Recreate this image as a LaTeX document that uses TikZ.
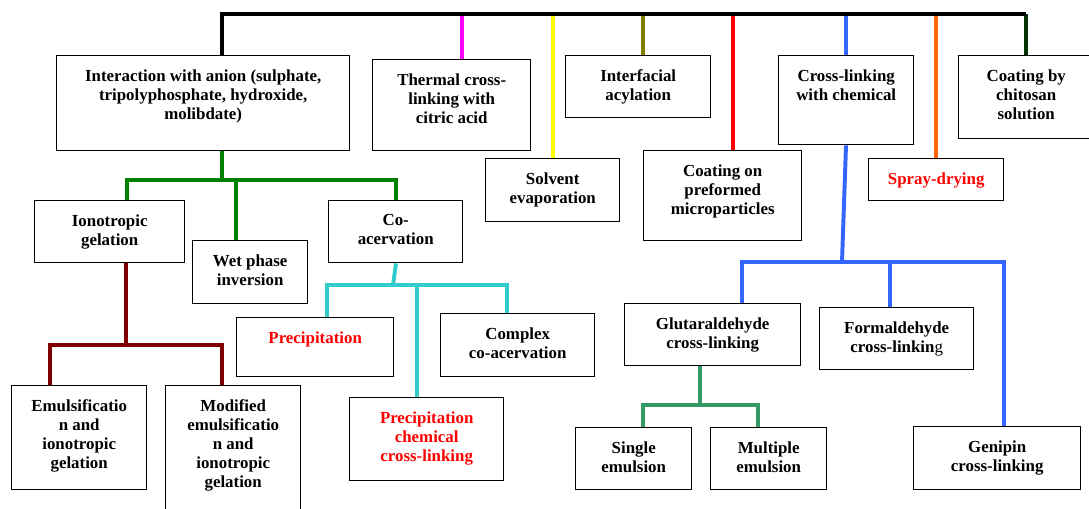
\documentclass[tikz,border=0pt]{standalone}
\usepackage{fontspec}
\setmainfont{Liberation Serif}
\usetikzlibrary{calc}

\definecolor{grn}{RGB}{0,128,0}
\definecolor{brn}{RGB}{128,0,0}
\definecolor{cyn}{RGB}{51,204,204}
\definecolor{blu}{RGB}{51,102,255}
\definecolor{tea}{RGB}{51,153,102}
\definecolor{olv}{RGB}{128,128,0}
\definecolor{orn}{RGB}{255,102,0}
\definecolor{dkg}{RGB}{0,51,0}
\definecolor{mag}{RGB}{255,0,255}
\definecolor{yel}{RGB}{255,255,0}

\begin{document}
\begin{tikzpicture}[x=0.025cm,y=-0.025cm,
   bx/.style 2 args={draw,line width=1pt,anchor=north west,inner sep=0pt,
     minimum width=#1*0.025cm,minimum height=#2*0.025cm},
   lbl/.style={anchor=north,align=center,inner sep=0pt,yshift=-10pt,
     font=\fontsize{12}{13.6}\selectfont\bfseries},
   rlbl/.style={lbl,text=red},
   drop/.style={line width=2.8pt},
   trunk/.style={line width=3.2pt,black}]
  \useasboundingbox (0,0) rectangle (1089,508);

  % first row
  \node[bx={293}{95},label={[lbl]north:{Interaction with anion (sulphate,\\tripolyphosphate, hydroxide,\\molibdate)}}] (inter) at (56,55) {};
  \node[bx={158}{91},label={[lbl]north:{Thermal cross-\\linking with\\citric acid}}] (therm) at (372,59) {};
  \node[bx={134}{63},label={[lbl]north:{Solvent\\evaporation}}] (solv) at (485,158) {};
  \node[bx={145}{62},label={[lbl]north:{Interfacial\\acylation}}] (acyl) at (565,55) {};
  \node[bx={158}{90},label={[lbl]north:{Coating on\\preformed\\microparticles}}] (pref) at (643,150) {};
  \node[bx={135}{89},label={[lbl]north:{Cross-linking\\with chemical}}] (xchem) at (778,55) {};
  \node[bx={135}{42},label={[rlbl]north:{Spray-drying}}] (spray) at (868,158) {};
  \node[bx={135}{83},label={[lbl]north:{Coating by\\chitosan\\solution}}] (chito) at (958,55) {};

  % anion branch
  \node[bx={150}{62},label={[lbl]north:{Ionotropic\\gelation}}] (ion) at (34,200) {};
  \node[bx={115}{63},label={[lbl]north:{Wet phase\\inversion}}] (wet) at (192,240) {};
  \node[bx={134}{62},label={[lbl]north:{Co-\\acervation}}] (coac) at (328,200) {};
  \node[bx={135}{104},label={[lbl]north:{Emulsificatio\\n and\\ionotropic\\gelation}}] (emul) at (11,385) {};
  \node[bx={135}{130},label={[lbl]north:{Modified\\emulsificatio\\n and\\ionotropic\\gelation}}] (modem) at (165,385) {};
  \node[bx={157}{59},label={[rlbl]north:{Precipitation}}] (prec) at (236,317) {};
  \node[bx={154}{63},label={[lbl]north:{Complex\\co-acervation}}] (compl) at (440,313) {};
  \node[bx={154}{83},label={[rlbl]north:{Precipitation\\chemical\\cross-linking}}] (pcc) at (349,397) {};

  % chemical branch
  \node[bx={176}{62},label={[lbl]north:{Glutaraldehyde\\cross-linking}}] (glut) at (624,303) {};
  \node[bx={154}{62},label={[lbl]north:{Formaldehyde\\cross-linkin{\mdseries g}}}] (form) at (819,307) {};
  \node[bx={116}{62},label={[lbl]north:{Single\\emulsion}}] (single) at (575,427) {};
  \node[bx={116}{62},label={[lbl]north:{Multiple\\emulsion}}] (multi) at (710,427) {};
  \node[bx={167}{63},label={[lbl]north:{Genipin\\cross-linking}}] (genip) at (913,426) {};

  % top bar
  \coordinate (tk) at (222,14);
  \coordinate (tm) at (462,14);
  \coordinate (ty) at (553,14);
  \coordinate (to) at (643,14);
  \coordinate (tr) at (733,14);
  \coordinate (tb) at (846,14);
  \coordinate (tn) at (936,14);
  \coordinate (td) at (1026,14);
  \draw[drop,mag] (tm) -- (therm.north -| tm);
  \draw[drop,yel] (ty) -- (solv.north -| ty);
  \draw[drop,olv] (to) -- (acyl.north -| to);
  \draw[drop,red] (tr) -- (pref.north -| tr);
  \draw[drop,blu] (tb) -- (xchem.north -| tb);
  \draw[drop,orn] (tn) -- (spray.north -| tn);
  \draw[drop,dkg] (td) -- (chito.north -| td);
  \draw[trunk] (inter.north -| tk) |- (td);

  % green
  \coordinate (g0) at (222,180);
  \coordinate (g1) at (127,180);
  \coordinate (g2) at (236,180);
  \coordinate (g3) at (396,180);
  \draw[drop,grn] (inter.south -| g0) -- (g0);
  \draw[drop,grn] (ion.north -| g1) |- (g3) -- (coac.north -| g3);
  \draw[drop,grn] (g2) -- (wet.north -| g2);

  % brown
  \coordinate (r0) at (126,345);
  \coordinate (r1) at (50,345);
  \coordinate (r2) at (222,345);
  \draw[drop,brn] (ion.south -| r0) -- (r0);
  \draw[drop,brn] (emul.north -| r1) |- (r2) -- (modem.north -| r2);

  % cyan
  \coordinate (c0) at (393,285);
  \coordinate (c1) at (327,285);
  \coordinate (c2) at (417,285);
  \coordinate (c3) at (507,285);
  \draw[drop,cyn] (coac.south -| g3) -- (c0);
  \draw[drop,cyn] (prec.north -| c1) |- (c3) -- (compl.north -| c3);
  \draw[drop,cyn] (c2) -- (pcc.north -| c2);

  % blue
  \coordinate (b0) at (842,262);
  \coordinate (b1) at (742,262);
  \coordinate (b2) at (890,262);
  \coordinate (b3) at (1004,262);
  \draw[drop,blu] (xchem.south -| tb) -- (b0);
  \draw[drop,blu] (glut.north -| b1) |- (b3) -- (genip.north -| b3);
  \draw[drop,blu] (b2) -- (form.north -| b2);

  % teal
  \coordinate (s0) at (700,405);
  \coordinate (s1) at (643,405);
  \coordinate (s2) at (758,405);
  \draw[drop,tea] (glut.south -| s0) -- (s0);
  \draw[drop,tea] (single.north -| s1) |- (s2) -- (multi.north -| s2);
\end{tikzpicture}
\end{document}
